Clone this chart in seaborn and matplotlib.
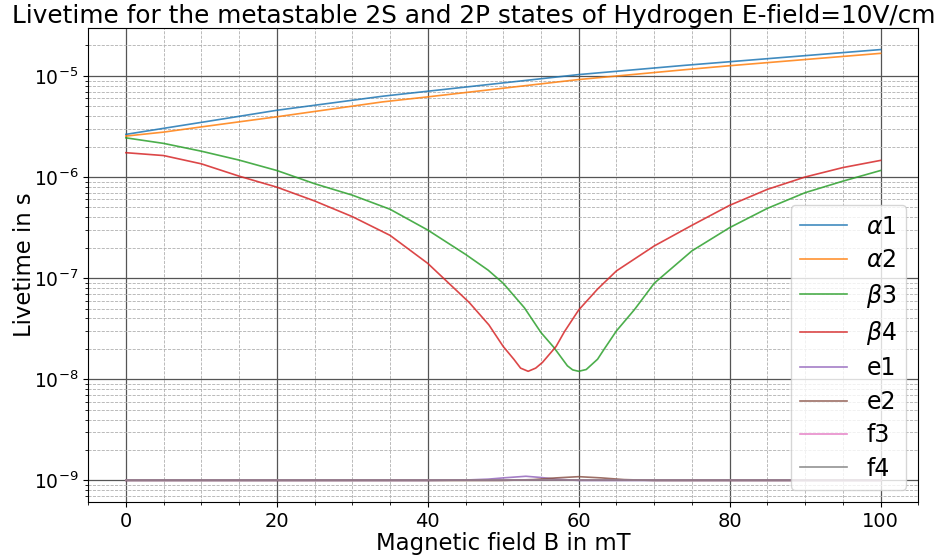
import matplotlib
matplotlib.use("Agg")
import matplotlib.pyplot as plt
import seaborn as sns
from matplotlib.ticker import AutoMinorLocator

# ---- data ----
B_alpha1 = [0, 5, 10, 20, 34, 40, 60, 74, 80, 100]
alpha1 = [2.64e-6, 3.03e-6, 3.47e-6, 4.57e-6, 6.29e-6, 7.05e-6, 1.03e-5, 1.27e-5, 1.38e-5, 1.82e-5]

B_alpha2 = [0, 5, 10, 20, 34, 40, 60, 74, 80, 100]
alpha2 = [2.54e-6, 2.78e-6, 3.13e-6, 3.94e-6, 5.53e-6, 6.2e-6, 9.2e-6, 1.15e-5, 1.26e-5, 1.67e-5]

B_beta3 = [0, 5, 10, 15, 20, 25, 30, 35, 40, 45, 48, 50, 52.8, 55, 56.7, 58.5, 59.2, 60, 61, 62.5, 63.4,
           65, 67.4, 70, 75, 80, 85, 90, 95, 100]
beta3 = [2.44e-6, 2.15e-6, 1.80e-6, 1.47e-6, 1.16e-6, 8.59e-7, 6.62e-7, 4.8e-7, 2.99e-7, 1.72e-7, 1.2e-7,
         8.9e-8, 5.1e-8, 2.9e-8, 2.07e-8, 1.36e-8, 1.24e-8, 1.2e-8, 1.25e-8, 1.58e-8, 2.0e-8,
         3.01e-8, 4.9e-8, 8.9e-8, 1.86e-7, 3.16e-7, 4.9e-7, 7.0e-7, 9.1e-7, 1.16e-6]

B_beta4 = [0, 5, 10, 15, 20, 25, 30, 35, 40, 45.5, 48.1, 50, 51.4, 52.3, 53.3, 54.3, 55.2, 57, 58.1, 60,
           62.5, 65, 70, 75, 80, 85, 90, 95, 100]
beta4 = [1.74e-6, 1.63e-6, 1.35e-6, 1.02e-6, 7.94e-7, 5.8e-7, 4.06e-7, 2.65e-7, 1.40e-7, 5.74e-8, 3.45e-8,
         2.11e-8, 1.58e-8, 1.29e-8, 1.2e-8, 1.29e-8, 1.47e-8, 2.11e-8, 2.95e-8, 4.85e-8,
         7.8e-8, 1.18e-7, 2.08e-7, 3.33e-7, 5.25e-7, 7.55e-7, 1.0e-6, 1.24e-6, 1.46e-6]

B_e1 = [0, 40, 45, 48, 50, 53, 55, 57, 60, 100]
e1 = [1.0e-9, 1.0e-9, 1.01e-9, 1.03e-9, 1.06e-9, 1.10e-9, 1.07e-9, 1.03e-9, 1.0e-9, 1.0e-9]

B_e2 = [0, 50, 54, 57, 60, 63, 66, 70, 100]
e2 = [1.0e-9, 1.0e-9, 1.02e-9, 1.06e-9, 1.09e-9, 1.06e-9, 1.02e-9, 1.0e-9, 1.0e-9]

B_f3 = [0, 100]
f3 = [1.0e-9, 1.0e-9]

B_f4 = [0, 100]
f4 = [1.0e-9, 1.0e-9]

labels = [r"$\alpha1$", r"$\alpha2$", r"$\beta3$", r"$\beta4$", "e1", "e2", "f3", "f4"]
colors = ["#1f77b4", "#ff7f0e", "#2ca02c", "#d62728", "#9467bd", "#8c564b", "#e377c2", "#7f7f7f"]

fig, ax = plt.subplots(figsize=(9.38, 5.55), dpi=100)
ax.set_yscale("log")

series = [(B_alpha1, alpha1), (B_alpha2, alpha2), (B_beta3, beta3), (B_beta4, beta4),
          (B_e1, e1), (B_e2, e2), (B_f3, f3), (B_f4, f4)]
for (xs, ys), lab, col in zip(series, labels, colors):
    sns.lineplot(x=xs, y=ys, ax=ax, label=lab, color=col, linewidth=1.2, alpha=0.85)

ax.xaxis.set_minor_locator(AutoMinorLocator(4))
ax.grid(which="major", color="#555555", linestyle="-", linewidth=0.9)
ax.grid(which="minor", color="#b0b0b0", linestyle="--", linewidth=0.6)
ax.set_axisbelow(True)

ax.set_title("Livetime for the metastable 2S and 2P states of Hydrogen E-field=10V/cm",
             fontsize=17.8, x=0.465, pad=3)
ax.set_xlabel("Magnetic field B in mT", fontsize=16.4, labelpad=1)
ax.set_ylabel("Livetime in s", fontsize=16.4)
ax.yaxis.set_label_coords(-0.063, 0.5)
ax.tick_params(axis="x", which="major", labelsize=14)
ax.tick_params(axis="y", which="major", labelsize=13.5)
ax.legend(loc="lower right", fontsize=17, labelspacing=0.4)

fig.subplots_adjust(left=0.094, right=0.979, top=0.9495, bottom=0.0955)
fig.savefig("out.png", dpi=100)
